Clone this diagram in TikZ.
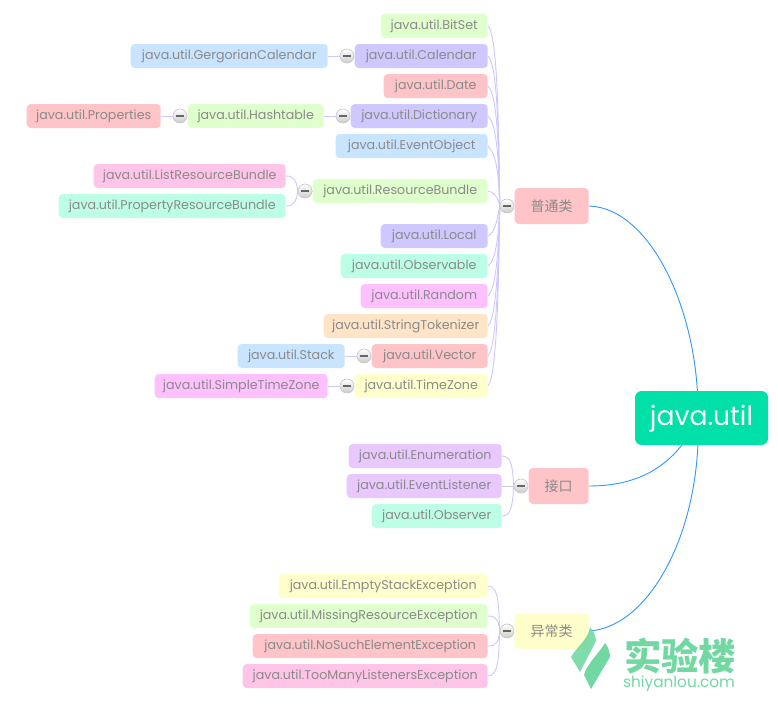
\documentclass[tikz,border=0pt]{standalone}
\usepackage{fontspec}
\usepackage{tikz}
\usepackage{xcolor}
\setmainfont{Poppins}
\newfontfamily\cjkfont{Noto Sans CJK SC}
\usetikzlibrary{backgrounds}
\usetikzlibrary{calc}
\usetikzlibrary{positioning, fit, arrows.meta}

\definecolor{leafgreen}{HTML}{DFFFCC}
\definecolor{leafviolet}{HTML}{CFC8FF}
\definecolor{leafred}{HTML}{FFC4C8}
\definecolor{leafblue}{HTML}{C8E4FF}
\definecolor{leafmint}{HTML}{BCFFE6}
\definecolor{leafpink}{HTML}{FFC4E8}
\definecolor{leafmagenta}{HTML}{FFC0FF}
\definecolor{leaforange}{HTML}{FFE4C8}
\definecolor{leafyellow}{HTML}{FFFFCC}
\definecolor{leaflilac}{HTML}{E8C8FF}
\definecolor{rootgreen}{HTML}{00E0A8}
\definecolor{textgray}{HTML}{8A8A8A}
\definecolor{trunkblue}{HTML}{3399FF}
\definecolor{branchviolet}{HTML}{CFC8FF}
\definecolor{markgreen}{HTML}{72D8A2}

\begin{document}
\begin{tikzpicture}[x=0.75pt, y=-0.75pt,
    wd/.style = {minimum width=#1*0.75pt},
    item/.style = {rectangle, rounded corners=3pt, anchor=east, minimum height=18pt, inner sep=0pt, text=textgray, font=\fontsize{9.5}{11}\selectfont},
    topic/.style = {rectangle, rounded corners=3pt, anchor=east, minimum height=27pt, inner sep=0pt, text=textgray, font=\cjkfont\fontsize{10.5}{12}\selectfont},
    main/.style = {rectangle, rounded corners=5pt, fill=rootgreen, text=white, minimum width=99.75pt, minimum height=40.5pt, inner sep=0pt, text height=14pt, text depth=2.5pt, font=\fontsize{20}{24}\selectfont},
    btn/.style = {circle, draw=black!22, line width=0.5pt, top color=white, bottom color=black!20, minimum size=10.5pt, inner sep=0pt,
        path picture={\fill[black!60] ($(path picture bounding box.center)+(-3.6,-1.1)$) rectangle ($(path picture bounding box.center)+(3.6,1.1)$);}},
    branch/.style = {draw=branchviolet, line width=0.7pt},
    trunk/.style = {draw=trunkblue, line width=0.7pt}]

    \useasboundingbox (0,0) rectangle (778,711);

    % root
    \node[main] (root) at (701.5,418) {java.util};
    \coordinate (rootjoin) at (698,418);

    % topics
    \node[topic, wd=74, fill=leafred] (putong) at (589,206) {普通类};
    \node[topic, wd=60, fill=leafred] (jiekou) at (589,486) {接口};
    \node[topic, wd=74, fill=leafyellow] (yichang) at (589,631) {异常类};

    % first group
    \node[item, wd=107, fill=leafgreen] (bitset) at (488,26) {java.util.BitSet};
    \node[item, wd=133, fill=leafviolet] (calendar) at (488,56) {java.util.Calendar};
    \node[item, wd=104, fill=leafred] (date) at (488,86) {java.util.Date};
    \node[item, wd=137, fill=leafviolet] (dictionary) at (488,116) {java.util.Dictionary};
    \node[item, wd=152, fill=leafblue] (eventobject) at (488,146) {java.util.EventObject};
    \node[item, wd=175, fill=leafgreen] (resourcebundle) at (488,191) {java.util.ResourceBundle};
    \node[item, wd=107, fill=leafviolet] (local) at (488,236) {java.util.Local};
    \node[item, wd=147, fill=leafmint] (observable) at (488,266) {java.util.Observable};
    \node[item, wd=127, fill=leafmagenta] (random) at (488,296) {java.util.Random};
    \node[item, wd=164, fill=leaforange] (tokenizer) at (488,326) {java.util.StringTokenizer};
    \node[item, wd=116, fill=leafred] (vector) at (488,356) {java.util.Vector};
    \node[item, wd=133, fill=leafyellow] (timezone) at (488,386) {java.util.TimeZone};

    % children of the first group
    \node[item, wd=197, fill=leafblue] (gregorian) at (328,56) {java.util.GergorianCalendar};
    \node[item, wd=136, fill=leafgreen] (hashtable) at (324,116) {java.util.Hashtable};
    \node[item, wd=134, fill=leafred] (properties) at (161,116) {java.util.Properties};
    \node[item, wd=192, fill=leafpink] (listbundle) at (286,176) {java.util.ListResourceBundle};
    \node[item, wd=227, fill=leafmint] (propertybundle) at (286,206) {java.util.PropertyResourceBundle};
    \node[item, wd=107, fill=leafblue] (stack) at (345,356) {java.util.Stack};
    \node[item, wd=173, fill=leafmagenta] (simplezone) at (328,386) {java.util.SimpleTimeZone};

    % second group
    \node[item, wd=153, fill=leaflilac] (enumeration) at (502,456) {java.util.Enumeration};
    \node[item, wd=155, fill=leaflilac] (eventlistener) at (502,486) {java.util.EventListener};
    \node[item, wd=130, fill=leafmint] (observer) at (502,516) {java.util.Observer};

    % third group
    \node[item, wd=209, fill=leafyellow] (emptystack) at (488,586) {java.util.EmptyStackException};
    \node[item, wd=238, fill=leafgreen] (missing) at (488,616) {java.util.MissingResourceException};
    \node[item, wd=235, fill=leafred] (nosuch) at (488,646) {java.util.NoSuchElementException};
    \node[item, wd=245, fill=leafpink] (toomany) at (488,676) {java.util.TooManyListenersException};

    % collapse buttons
    \node[btn] (putongbtn) at (507,206) {};
    \node[btn] (jiekoubtn) at (521,486) {};
    \node[btn] (yichangbtn) at (507,631) {};
    \node[btn] (calendarbtn) at (347,56) {};
    \node[btn] (dictionarybtn) at (343,116) {};
    \node[btn] (hashtablebtn) at (180,116) {};
    \node[btn] (bundlebtn) at (305,191) {};
    \node[btn] (vectorbtn) at (364,356) {};
    \node[btn] (timezonebtn) at (347,386) {};

    \begin{scope}[on background layer]
        \draw[trunk] (putong.east) .. controls +(62,2) and +(2,-105) .. (rootjoin);
        \draw[trunk] (jiekou.east) .. controls +(50,0) and +(-22,48) .. (rootjoin);
        \draw[trunk] (yichang.east) .. controls +(62,-4) and +(4,110) .. (rootjoin);

        \draw[trunk] (putongbtn.center) -- (putong.west);
        \draw[trunk] (jiekoubtn.center) -- (jiekou.west);
        \draw[trunk] (yichangbtn.center) -- (yichang.west);

        \draw[branch] (bitset.east) .. controls +(8,8) and +(-1,-110) .. (putongbtn.west);
        \draw[branch] (calendar.east) .. controls +(8,8) and +(-1,-95) .. (putongbtn.west);
        \draw[branch] (date.east) .. controls +(8,8) and +(-1,-75) .. (putongbtn.west);
        \draw[branch] (dictionary.east) .. controls +(8,8) and +(-1,-55) .. (putongbtn.west);
        \draw[branch] (eventobject.east) .. controls +(8,8) and +(-1,-35) .. (putongbtn.west);
        \draw[branch] (resourcebundle.east) .. controls +(8,2) and +(-2,-8) .. (putongbtn.west);
        \draw[branch] (local.east) .. controls +(8,-4) and +(-2,10) .. (putongbtn.west);
        \draw[branch] (observable.east) .. controls +(8,-6) and +(-1,30) .. (putongbtn.west);
        \draw[branch] (random.east) .. controls +(8,-8) and +(-1,45) .. (putongbtn.west);
        \draw[branch] (tokenizer.east) .. controls +(8,-8) and +(-1,60) .. (putongbtn.west);
        \draw[branch] (vector.east) .. controls +(8,-8) and +(-1,75) .. (putongbtn.west);
        \draw[branch] (timezone.east) .. controls +(8,-8) and +(-1,95) .. (putongbtn.west);

        \draw[branch] (enumeration.east) .. controls +(9,0) and +(-1,-20) .. (jiekoubtn.west);
        \draw[branch] (eventlistener.east) -- (jiekoubtn.west);
        \draw[branch] (observer.east) .. controls +(9,0) and +(-1,20) .. (jiekoubtn.west);

        \draw[branch] (emptystack.east) .. controls +(11,0) and +(-1,-25) .. (yichangbtn.west);
        \draw[branch] (missing.east) .. controls +(9,0) and +(-1,-10) .. (yichangbtn.west);
        \draw[branch] (nosuch.east) .. controls +(9,0) and +(-1,10) .. (yichangbtn.west);
        \draw[branch] (toomany.east) .. controls +(11,0) and +(-1,25) .. (yichangbtn.west);

        \draw[branch] (gregorian.east) -- (calendar.west);
        \draw[branch] (hashtable.east) -- (dictionary.west);
        \draw[branch] (properties.east) -- (hashtable.west);
        \draw[branch] (stack.east) -- (vector.west);
        \draw[branch] (simplezone.east) -- (timezone.west);
        \draw[branch] (bundlebtn.east) -- (resourcebundle.west);
        \draw[branch] (listbundle.east) .. controls +(8,0) and +(-1,-10) .. (bundlebtn.west);
        \draw[branch] (propertybundle.east) .. controls +(8,0) and +(-1,10) .. (bundlebtn.west);
    \end{scope}

    % watermark
    \fill[markgreen, opacity=0.9] (590,627) .. controls (594,632) and (596,637) .. (596,641) -- (580,672) -- (571,657) .. controls (578,645) and (588,640) .. cycle;
    \fill[markgreen] (605,643) .. controls (609,648) and (610,653) .. (610,657) -- (591,689) -- (584,675) .. controls (586,665) and (600,652) .. cycle;
    \node[text=markgreen, inner sep=0pt, font=\cjkfont\bfseries\fontsize{28}{30}\selectfont] (marktitle) at (680,656) {实验楼};
    \node[text=markgreen, inner sep=0pt, font=\fontsize{11.5}{13}\selectfont] (markurl) at (679,684) {shiyanlou.com};
\end{tikzpicture}
\end{document}
